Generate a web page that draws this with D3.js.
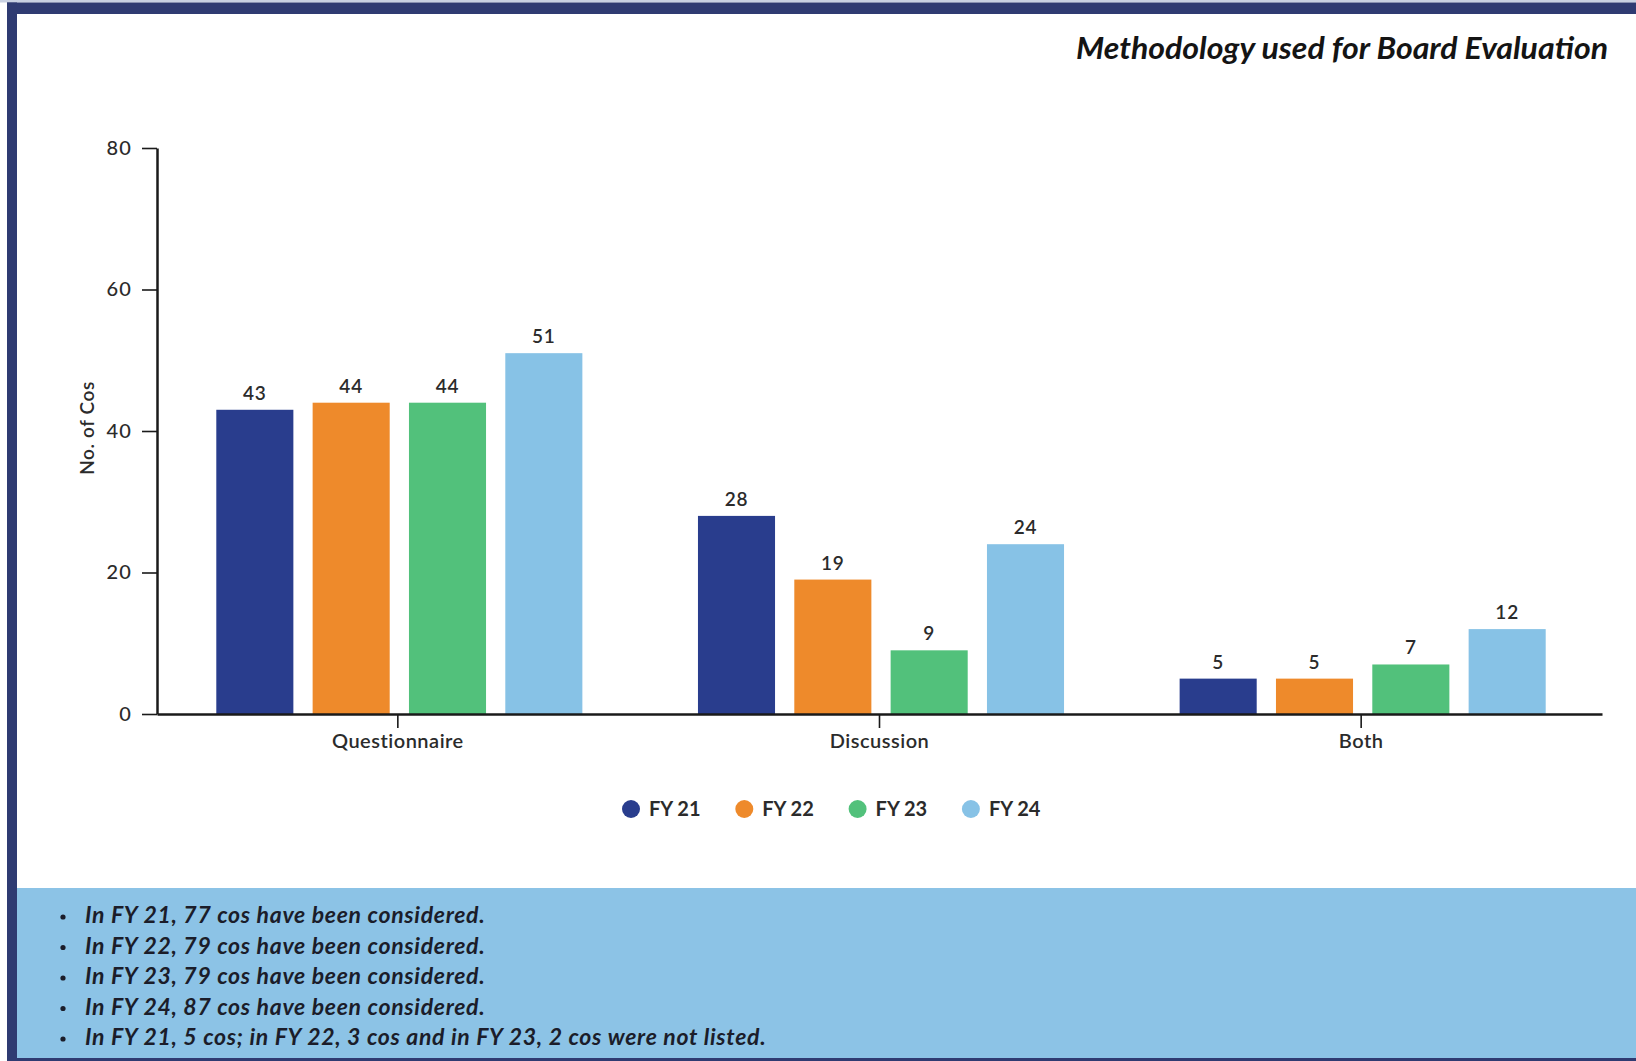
<!DOCTYPE html>
<html>
<head>
<meta charset="utf-8">
<script src="https://cdn.jsdelivr.net/npm/d3@7"></script>
<style>
  html, body { margin: 0; padding: 0; background: #ffffff; }
  svg { display: block; }
  text { font-family: Lato, "Open Sans", sans-serif; }
</style>
</head>
<body>
<svg id="chart" width="1636" height="1061"></svg>
<script>
// Board evaluation methodology, number of companies per fiscal year
const categories = ["Questionnaire", "Discussion", "Both"];
const years = ["FY 21", "FY 22", "FY 23", "FY 24"];
const fy21 = [43, 28, 5];
const fy22 = [44, 19, 5];
const fy23 = [44, 9, 7];
const fy24 = [51, 24, 12];
const yTicks = [0, 20, 40, 60, 80];
const colors = ["#293d8d", "#ee8a2b", "#52c17b", "#87c2e6"];
const title = "Methodology used for Board Evaluation";
const yTitle = "No. of Cos";
const notes = [
  "In FY 21, 77 cos have been considered.",
  "In FY 22, 79 cos have been considered.",
  "In FY 23, 79 cos have been considered.",
  "In FY 24, 87 cos have been considered.",
  "In FY 21, 5 cos; in FY 22, 3 cos and in FY 23, 2 cos were not listed."
];

const seriesValues = [fy21, fy22, fy23, fy24];
const rows = categories.map((c, i) => ({
  category: c,
  values: years.map((y, j) => ({ year: y, idx: j, value: seriesValues[j][i] }))
}));

const svg = d3.select("#chart");
const W = 1636, H = 1061;
const navy = "#2f3b72";

// frame
svg.append("rect").attr("x", 0).attr("y", 0).attr("width", W).attr("height", H).attr("fill", "#ffffff");
svg.append("rect").attr("x", 0).attr("y", 0).attr("width", W).attr("height", 2.5).attr("fill", "#c9d1e2");
svg.append("rect").attr("x", 7).attr("y", 2.5).attr("width", W - 7).attr("height", 11.5).attr("fill", navy);
svg.append("rect").attr("x", 7).attr("y", 2.5).attr("width", 10).attr("height", H - 2.5).attr("fill", navy);

// notes panel
svg.append("rect").attr("x", 17).attr("y", 888).attr("width", W - 17).attr("height", 170).attr("fill", "#8cc3e6");
svg.append("rect").attr("x", 7).attr("y", 1058).attr("width", W - 7).attr("height", 3).attr("fill", navy);

const notesG = svg.append("g");
notes.forEach((n, i) => {
  const y = 923 + i * 30.5;
  notesG.append("circle").attr("cx", 63).attr("cy", y - 6).attr("r", 2.6).attr("fill", "#1b1d2a");
  notesG.append("text")
    .attr("x", 85).attr("y", y)
    .attr("font-size", 23).attr("font-style", "italic").attr("font-weight", 700)
    .attr("letter-spacing", 0.7)
    .attr("fill", "#1b1d2a")
    .text(n);
});

// title
svg.append("text")
  .attr("x", 1608).attr("y", 59)
  .attr("text-anchor", "end")
  .attr("font-size", 30).attr("font-style", "italic").attr("font-weight", 700)
  .attr("textLength", 532).attr("lengthAdjust", "spacingAndGlyphs")
  .attr("fill", "#141414")
  .text(title);

// scales
const x0 = d3.scaleBand().domain(categories).range([157, 1602]).paddingInner(0).paddingOuter(0);
const x1 = d3.scaleBand().domain(years).range([0, x0.bandwidth()]).paddingInner(0.2).paddingOuter(0.6);
const y = d3.scaleLinear().domain([0, 80]).range([714, 148]);

// bars
const groups = svg.append("g").selectAll("g").data(rows).join("g")
  .attr("transform", d => `translate(${x0(d.category) + 1.5},0)`);

groups.selectAll("rect").data(d => d.values).join("rect")
  .attr("x", d => x1(d.year))
  .attr("y", d => y(d.value))
  .attr("width", x1.bandwidth())
  .attr("height", d => y(0) - y(d.value))
  .attr("fill", d => colors[d.idx]);

groups.selectAll("text.val").data(d => d.values).join("text")
  .attr("class", "val")
  .attr("x", d => x1(d.year) + x1.bandwidth() / 2)
  .attr("y", d => y(d.value) - 10)
  .attr("text-anchor", "middle")
  .attr("font-size", 19).attr("font-weight", 600)
  .attr("letter-spacing", 0.8)
  .attr("fill", "#2b2b2b")
  .text(d => d.value);

// axes
const yAxis = d3.axisLeft(y).tickValues(yTicks).tickSize(15).tickSizeOuter(0).tickPadding(10);
const yg = svg.append("g").attr("transform", "translate(157,0)").call(yAxis);
yg.select(".domain").attr("stroke", "#1a1a1a").attr("stroke-width", 2.5);
yg.selectAll(".tick line").attr("stroke", "#1a1a1a").attr("stroke-width", 1.6);
yg.selectAll(".tick text").attr("font-size", 20).attr("font-weight", 500)
  .attr("letter-spacing", 1.2)
  .attr("fill", "#2b2b2b").style("font-family", "Lato, sans-serif");

const xAxis = d3.axisBottom(x0).tickSize(14).tickSizeOuter(0).tickPadding(6);
const xg = svg.append("g").attr("transform", "translate(0,714)").call(xAxis);
xg.select(".domain").attr("stroke", "#1a1a1a").attr("stroke-width", 2.5);
xg.selectAll(".tick line").attr("stroke", "#1a1a1a").attr("stroke-width", 1.6);
xg.selectAll(".tick text").attr("font-size", 20).attr("font-weight", 600)
  .attr("letter-spacing", 0.5)
  .attr("fill", "#2b2b2b").style("font-family", "Lato, sans-serif");

// y axis title
svg.append("text")
  .attr("transform", "translate(94,428) rotate(-90)")
  .attr("text-anchor", "middle")
  .attr("font-size", 19).attr("font-weight", 600)
  .attr("letter-spacing", 0.6)
  .attr("fill", "#2b2b2b")
  .text(yTitle);

// legend
const legend = svg.append("g").attr("transform", "translate(631,809)");
const li = legend.selectAll("g").data(years).join("g")
  .attr("transform", (d, i) => `translate(${i * 113.3},0)`);
li.append("circle").attr("r", 9).attr("fill", (d, i) => colors[i]);
li.append("text").attr("x", 18).attr("dy", "0.36em")
  .attr("font-size", 20).attr("font-weight", 700)
  .attr("fill", "#2b2b2b")
  .text(d => d);
</script>
</body>
</html>
